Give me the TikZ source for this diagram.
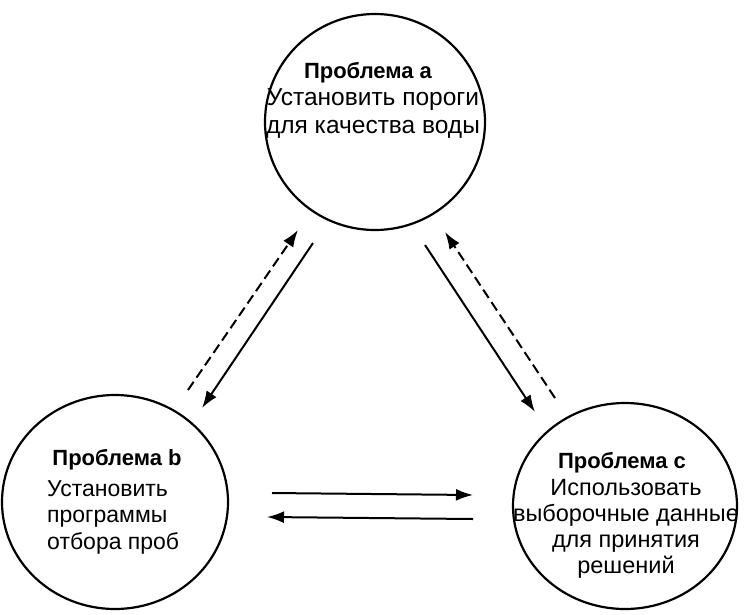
\documentclass[tikz,border=0pt]{standalone}
\usepackage{fontspec}
\setmainfont{Liberation Sans}
\usetikzlibrary{shapes.geometric,arrows.meta}
\tikzset{
  prob/.style={draw, ellipse, line width=2.2pt, inner sep=0pt},
  head/.style={font=\fontsize{22}{26}\selectfont\bfseries, inner sep=0pt},
  body/.style={inner sep=0pt},
  link/.style={line width=2pt, -{Latex[length=17pt,width=12pt]}},
  dlink/.style={link, dash pattern=on 10pt off 5pt}
}
\begin{document}
\begin{tikzpicture}[x=1pt,y=-1pt]
\useasboundingbox (0,0) rectangle (744,614);
% circles
\node[prob, minimum width=220pt, minimum height=216pt] (a) at (375,122) {};
\node[prob, minimum width=226pt, minimum height=214pt] (b) at (115,502) {};
\node[prob, minimum width=224pt, minimum height=206pt] (c) at (625,506) {};
% texts
\node[head] (ah) at (368,73) {Проблема a};
\node[body, align=center, font=\fontsize{24.5}{28}\selectfont] (at) at (373,114) {Установить пороги\\для качества воды};
\node[head] (bh) at (117,460) {Проблема b};
\node[body, align=left, anchor=west, font=\fontsize{23}{26.5}\selectfont] (bt) at (47,517) {Установить\\программы\\отбора проб};
\node[head] (ch) at (622,463) {Проблема c};
\node[body, align=center, font=\fontsize{23.5}{26}\selectfont] (ct) at (626,529) {Использовать\\выборочные данные\\для принятия\\решений};
% arrow end points
\coordinate (p1) at (188,390); \coordinate (p2) at (298,230);
\coordinate (p3) at (313,243); \coordinate (p4) at (202,408);
\coordinate (p5) at (425,245); \coordinate (p6) at (535,412);
\coordinate (p7) at (555,398); \coordinate (p8) at (445,232);
\coordinate (p9) at (272,493); \coordinate (p10) at (473,495);
\coordinate (p11) at (473,519); \coordinate (p12) at (267,517);
\draw[dlink] (p1) -- (p2);
\draw[link] (p3) -- (p4);
\draw[link] (p5) -- (p6);
\draw[dlink] (p7) -- (p8);
\draw[link] (p9) -- (p10);
\draw[link] (p11) -- (p12);
\end{tikzpicture}
\end{document}
